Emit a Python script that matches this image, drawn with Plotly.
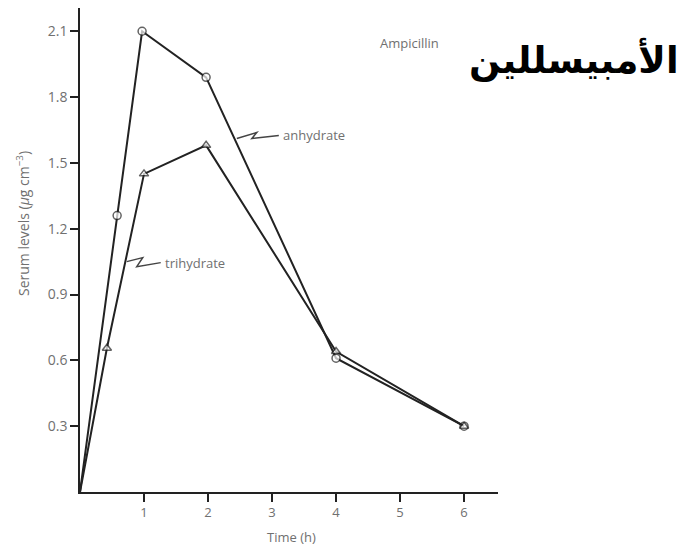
import plotly.graph_objects as go

# ---- data ----
anhydrate_t = [0, 0.58, 0.97, 1.97, 4.0, 6.0]
anhydrate_v = [0, 1.26, 2.10, 1.89, 0.61, 0.30]
trihydrate_t = [0, 0.42, 1.0, 1.97, 4.0, 6.0]
trihydrate_v = [0, 0.655, 1.45, 1.58, 0.64, 0.30]
x_ticks = [1, 2, 3, 4, 5, 6]
y_ticks = [0.3, 0.6, 0.9, 1.2, 1.5, 1.8, 2.1]
y_ticklabels = ["0.3", "0.6", "0.9", "1.2", "1.5", "1.8", "2.1"]

title_text = "Ampicillin"
arabic_text = "الأمبيسللين"
x_title = "Time (h)"
y_title = "Serum levels (<i>μ</i>g cm<sup>−3</sup>)"

# label anchors (data coordinates of the leader start on each line)
anh_leader = (2.45, 1.611)
tri_leader = (0.73, 1.05)

LINE = "#222222"
GRAY = "#707070"
FONT = "'Open Sans', 'DejaVu Sans', sans-serif"

fig = go.Figure()

def marker_sizes(n):
    return [0] + [8] * (n - 1)

fig.add_trace(go.Scatter(
    x=anhydrate_t, y=anhydrate_v, mode="lines+markers",
    line=dict(color=LINE, width=2),
    marker=dict(symbol="circle", size=marker_sizes(len(anhydrate_t)), color="white",
                line=dict(color=LINE, width=1.5)),
    showlegend=False, hoverinfo="skip"))
fig.add_trace(go.Scatter(
    x=trihydrate_t, y=trihydrate_v, mode="lines+markers",
    line=dict(color=LINE, width=2),
    marker=dict(symbol="triangle-up", size=marker_sizes(len(trihydrate_t)), color="white",
                line=dict(color=LINE, width=1.5)),
    showlegend=False, hoverinfo="skip"))

# zigzag leaders (pixel paths anchored on the lines)
fig.add_shape(type="path", xref="x", yref="y", xsizemode="pixel", ysizemode="pixel",
              xanchor=anh_leader[0], yanchor=anh_leader[1],
              path="M0,0 L20,6 L15,0 L42,3",
              line=dict(color="#444444", width=1.5))
fig.add_shape(type="path", xref="x", yref="y", xsizemode="pixel", ysizemode="pixel",
              xanchor=tri_leader[0], yanchor=tri_leader[1],
              path="M0,0 L16,4 L10,-5 L34,-1",
              line=dict(color="#444444", width=1.5))

ann_font = dict(family=FONT, size=13, color=GRAY)
fig.add_annotation(x=anh_leader[0], y=anh_leader[1], xref="x", yref="y",
                   text="anhydrate", showarrow=False, xanchor="left",
                   xshift=44, yshift=4, font=ann_font)
fig.add_annotation(x=tri_leader[0], y=tri_leader[1], xref="x", yref="y",
                   text="trihydrate", showarrow=False, xanchor="left",
                   xshift=36, yshift=-1, font=ann_font)

fig.add_annotation(x=409, y=548 - 43, xref="paper", yref="paper", text=title_text,
                   showarrow=False, font=dict(family=FONT, size=13, color=GRAY))
fig.add_annotation(x=574, y=548 - 60, xref="paper", yref="paper",
                   text="<b>" + arabic_text + "</b>", showarrow=False,
                   font=dict(family="'DejaVu Sans', sans-serif", size=37, color="black"))
fig.add_annotation(x=291, y=548 - 537, xref="paper", yref="paper", text=x_title,
                   showarrow=False, font=dict(family=FONT, size=13, color=GRAY))
fig.add_annotation(x=23, y=548 - 224, xref="paper", yref="paper", text=y_title,
                   showarrow=False, textangle=-90, font=dict(family=FONT, size=14, color=GRAY))

# convert paper-pixel annotations to paper fraction
L, R, T, B = 80, 183, 8, 56
W, H = 681, 548
pw, ph = W - L - R, H - T - B
for a in fig.layout.annotations[2:]:
    a.x = (a.x - L) / pw
    a.y = (a.y - B) / ph
    a.xanchor = "center"
    a.yanchor = "middle"

fig.update_layout(
    width=W, height=H,
    margin=dict(l=L, r=R, t=T, b=B, pad=0),
    plot_bgcolor="white", paper_bgcolor="white",
    xaxis=dict(range=[0, 6.53], tickvals=x_ticks, showgrid=False, zeroline=False,
               showline=True, linecolor=LINE, linewidth=1.5,
               ticks="outside", ticklen=8, tickwidth=1.5, tickcolor=LINE,
               tickfont=dict(family=FONT, size=13, color=GRAY)),
    yaxis=dict(range=[0, 2.206], tickvals=y_ticks, ticktext=y_ticklabels,
               showgrid=False, zeroline=False,
               showline=True, linecolor=LINE, linewidth=1.5,
               ticks="outside", ticklen=8, tickwidth=1.5, tickcolor=LINE,
               tickfont=dict(family=FONT, size=14, color=GRAY)),
)

fig.write_html("out.html", config={"displayModeBar": False},
               post_script="document.body.style.margin='0';")
